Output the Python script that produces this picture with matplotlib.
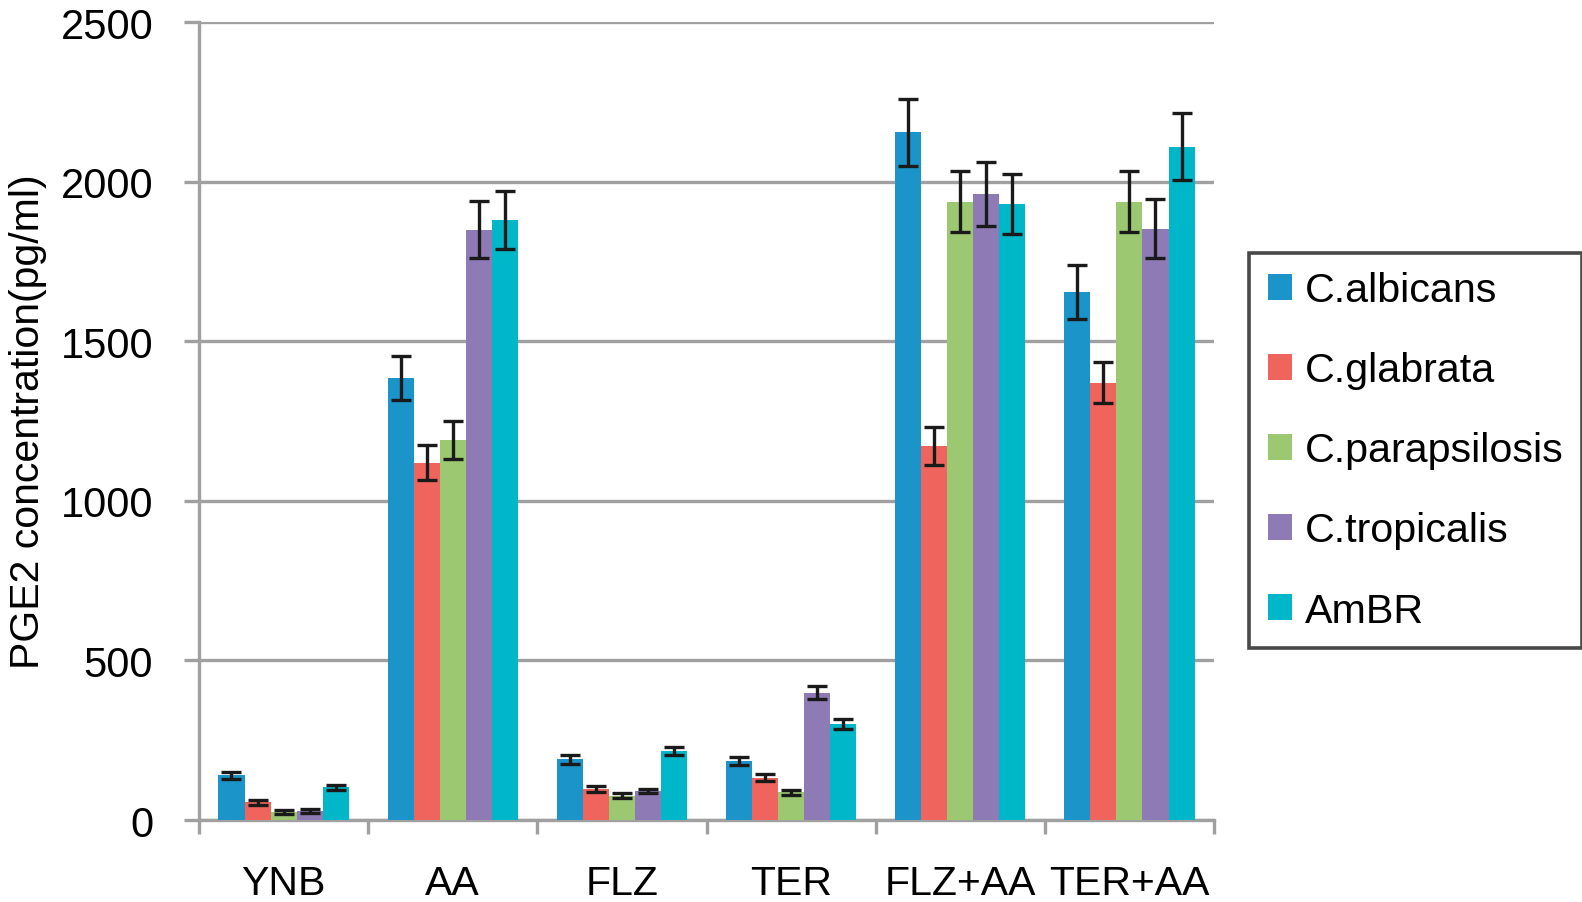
import numpy as np
import matplotlib.pyplot as plt

plt.rcParams['font.family'] = ['Liberation Sans', 'DejaVu Sans']

# --- Data ---
groups = ["YNB", "AA", "FLZ", "TER", "FLZ+AA", "TER+AA"]
species = ["C.albicans", "C.glabrata", "C.parapsilosis", "C.tropicalis", "AmBR"]

albicans = [140, 1385, 190, 185, 2155, 1655]
glabrata = [55, 1120, 97, 133, 1172, 1370]
parapsilosis = [24, 1190, 76, 87, 1937, 1937]
tropicalis = [29, 1850, 92, 399, 1961, 1852]
ambr = [102, 1880, 217, 300, 1930, 2110]

albicans_err = [10, 70, 15, 12, 105, 85]
glabrata_err = [8, 55, 8, 10, 60, 65]
parapsilosis_err = [6, 60, 8, 8, 95, 95]
tropicalis_err = [6, 90, 6, 20, 100, 92]
ambr_err = [8, 90, 12, 15, 95, 105]

values = [albicans, glabrata, parapsilosis, tropicalis, ambr]
errors = [albicans_err, glabrata_err, parapsilosis_err, tropicalis_err, ambr_err]
colors = ["#1b95c9", "#ef655d", "#9cc872", "#8e7bb6", "#00b7c9"]

GRAY = '#a0a0a0'
FS = 30

fig = plt.figure(figsize=(15.82, 9.03), dpi=100)
ax = fig.add_axes([0.1258, 0.0908, 0.6416, 0.8837])

centers = np.arange(len(groups)) + 0.5
bar_w = 0.154
for i, (vals, errs) in enumerate(zip(values, errors)):
    xpos = centers + (i - 2) * bar_w
    ax.bar(xpos, vals, width=bar_w, color=colors[i], label=species[i], zorder=3)
    ax.errorbar(xpos, vals, yerr=errs, fmt='none', ecolor='#1a1a1a',
                elinewidth=2.4, capsize=7, capthick=2.4, zorder=4)

ax.set_xlim(0, len(groups))
ax.set_ylim(0, 2500)
ax.set_yticks(np.arange(0, 2501, 500))
ax.yaxis.grid(True, color=GRAY, linewidth=2.4, zorder=0)
ax.set_axisbelow(True)

# boundary ticks without labels, group names at the centers
ax.set_xticks(np.arange(0, len(groups) + 1))
ax.set_xticklabels([])
ax.set_xticks(centers, minor=True)
ax.set_xticklabels(groups, minor=True)
ax.tick_params(axis='x', which='major', length=10, width=2.4, color=GRAY)
ax.tick_params(axis='x', which='minor', length=0, pad=32, labelsize=29.5)
ax.tick_params(axis='y', length=11, width=2.4, color=GRAY, labelsize=FS, pad=22)

for side in ['top', 'right']:
    ax.spines[side].set_visible(False)
for side in ['left', 'bottom']:
    ax.spines[side].set_color(GRAY)
    ax.spines[side].set_linewidth(2.4)

ax.set_ylabel("PGE2 concentration(pg/ml)", fontsize=29.5, labelpad=10)

leg = ax.legend(loc='upper left', bbox_to_anchor=(1.0345, 0.711), fontsize=29.7,
                frameon=True, fancybox=False, edgecolor='#1a1a1a',
                handlelength=0.6, handleheight=0.6, handletextpad=0.3,
                labelspacing=1.02, borderpad=0.45, borderaxespad=0)
leg.get_frame().set_linewidth(2.6)

fig.savefig("out.png", dpi=100)
